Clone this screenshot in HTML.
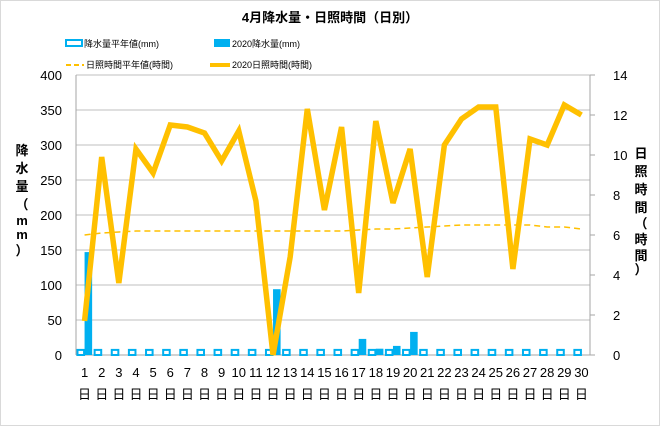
<!DOCTYPE html>
<html><head><meta charset="utf-8"><style>
body{margin:0;background:#fff;font-family:"Liberation Sans","Noto Sans CJK JP",sans-serif;}
svg text{font-family:"Liberation Sans","Noto Sans CJK JP",sans-serif;}
</style></head><body>
<svg id="c" width="660" height="426" viewBox="0 0 660 426" xmlns="http://www.w3.org/2000/svg">
<rect x="0.5" y="0.5" width="659" height="425" fill="#fff" stroke="#d9d9d9"/>
<text x="330" y="22" font-size="13" font-weight="bold" text-anchor="middle">4月降水量・日照時間（日別）</text>
<g font-size="9">
<rect x="66" y="40" width="16" height="6" fill="none" stroke="#00b0f0" stroke-width="2"/>
<text x="84" y="47">降水量平年値(mm)</text>
<rect x="214" y="39" width="16" height="8" fill="#00b0f0"/>
<text x="232" y="47">2020降水量(mm)</text>
<line x1="66" y1="65" x2="84" y2="65" stroke="#ffc000" stroke-width="2" stroke-dasharray="5,3"/>
<text x="86" y="68">日照時間平年値(時間)</text>
<line x1="210" y1="65" x2="230" y2="65" stroke="#ffc000" stroke-width="4"/>
<text x="232" y="68">2020日照時間(時間)</text>
</g>
<g id="grid"></g><g id="bars"></g><g id="lines"></g><g id="axes"></g>
<text transform="translate(22,215)" font-size="13" font-weight="bold"><tspan x="0" y="-60" text-anchor="middle">降</tspan><tspan x="0" y="-42" text-anchor="middle">水</tspan><tspan x="0" y="-24" text-anchor="middle">量</tspan><tspan x="0" y="-6" text-anchor="middle">（</tspan><tspan x="0" y="10" text-anchor="middle">m</tspan><tspan x="0" y="24" text-anchor="middle">m</tspan><tspan x="0" y="40" text-anchor="middle">）</tspan></text>
<text transform="translate(641,200)" font-size="13" font-weight="bold"><tspan x="0" y="-42" text-anchor="middle">日</tspan><tspan x="0" y="-24" text-anchor="middle">照</tspan><tspan x="0" y="-6" text-anchor="middle">時</tspan><tspan x="0" y="12" text-anchor="middle">間</tspan><tspan x="0" y="28" text-anchor="middle">（</tspan><tspan x="0" y="44" text-anchor="middle">時</tspan><tspan x="0" y="60" text-anchor="middle">間</tspan><tspan x="0" y="74" text-anchor="middle">）</tspan></text>
</svg>
<script>
const days=[1,2,3,4,5,6,7,8,9,10,11,12,13,14,15,16,17,18,19,20,21,22,23,24,25,26,27,28,29,30];
const precipNormal=[8,8,8,8,8,8,8,8,8,8,8,8,8,8,8,8,8,8,8,8,8,8,8,8,8,8,8,8,8,8];
const precip2020=[147,0,0,0,0,0,0,0,0,0,0,94,0,0,0,0,23,9,13,33,0,0,0,0,0,0,0,0,0,0];
const sunNormal=[6.0,6.1,6.15,6.2,6.2,6.2,6.2,6.2,6.2,6.2,6.2,6.2,6.2,6.2,6.2,6.2,6.25,6.3,6.3,6.35,6.4,6.45,6.5,6.5,6.5,6.5,6.5,6.4,6.4,6.3];
const sun2020=[1.7,9.9,3.6,10.3,9.1,11.5,11.4,11.1,9.7,11.2,7.7,0,4.9,12.3,7.25,11.4,3.1,11.7,7.6,10.3,3.9,10.5,11.8,12.4,12.4,4.3,10.8,10.5,12.5,12.0];
const leftTicks=[0,50,100,150,200,250,300,350,400];
const rightTicks=[0,2,4,6,8,10,12,14];
const X0=76,X1=590,Y0=355,Y1=75;
const bw=(X1-X0)/days.length;
const xc=i=>X0+bw*(i+0.5);
const yL=v=>Y0-(v/400)*(Y0-Y1);
const yR=v=>Y0-(v/14)*(Y0-Y1);
const NS='http://www.w3.org/2000/svg';
function mk(parent,tag,attrs){const e=document.createElementNS(NS,tag);for(const k in attrs)e.setAttribute(k,attrs[k]);document.getElementById(parent).appendChild(e);return e;}
leftTicks.forEach(t=>{
 const l=mk('grid','line',{x1:X0,x2:X1,y1:yL(t),y2:yL(t),stroke:t===0?'#a6a6a6':'#bfbfbf','stroke-width':1});
 
 
 const tx=mk('axes','text',{x:X0-14,y:yL(t)+5,'font-size':13,'text-anchor':'end'});tx.textContent=t;
 
 
});
rightTicks.forEach(t=>{
 const tx=mk('axes','text',{x:X1+23,y:yR(t)+5,'font-size':13,'text-anchor':'start'});tx.textContent=t;
 
 
 const tk=mk('axes','line',{x1:X1,x2:X1+5,y1:yR(t),y2:yR(t),stroke:'#a6a6a6'});
 
 
});
const la=mk('axes','line',{x1:X0,x2:X0,y1:Y1,y2:Y0,stroke:'#a6a6a6'});


const ra=mk('axes','line',{x1:X1,x2:X1,y1:Y1,y2:Y0,stroke:'#a6a6a6'});


days.forEach((d,i)=>{
 const a=mk('axes','text',{x:xc(i),y:377,'font-size':13,'text-anchor':'middle'});a.textContent=d;
 
 
 const b=mk('axes','text',{x:xc(i),y:399,'font-size':13,'text-anchor':'middle'});b.textContent='日';
 
 
 const x0=X0+bw*i;
 const h=Y0-yL(precipNormal[i]);
 const r=mk('bars','rect',{x:x0+1.5,y:yL(precipNormal[i])+0.5,width:bw/2-2,height:Math.max(h-0.5,0),fill:'#fff',stroke:'#00b0f0','stroke-width':2});
 
 
 if(precip2020[i]>0){
  const r2=mk('bars','rect',{x:x0+bw/2,y:yL(precip2020[i]),width:bw/2-1,height:Y0-yL(precip2020[i]),fill:'#00b0f0'});
  
  
 }
});
const pN=mk('lines','polyline',{points:sunNormal.map((v,i)=>xc(i)+','+yR(v)).join(' '),fill:'none',stroke:'#ffc000','stroke-width':1.5,'stroke-dasharray':'6,4'});


const p2=mk('lines','polyline',{points:sun2020.map((v,i)=>xc(i)+','+yR(v)).join(' '),fill:'none',stroke:'#ffc000','stroke-width':5.5,'stroke-linejoin':'miter','stroke-miterlimit':3});


</script>
</body></html>
